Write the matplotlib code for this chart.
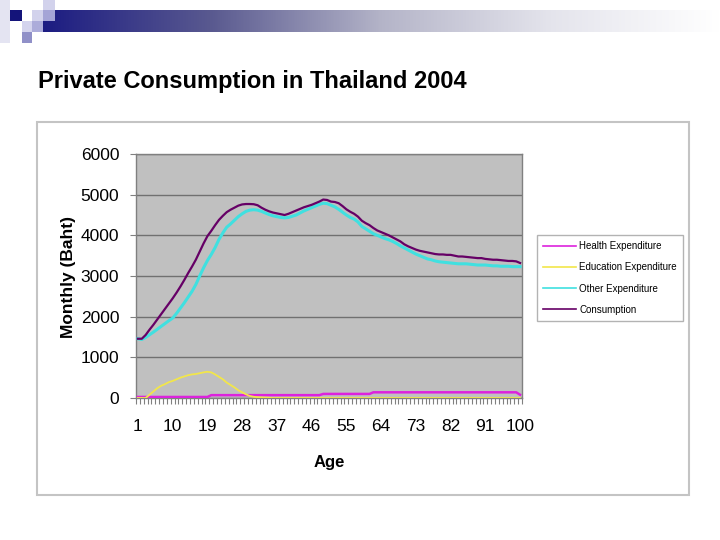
import matplotlib
matplotlib.use("Agg")
import matplotlib.pyplot as plt
import numpy as np
from matplotlib.patches import Rectangle
from matplotlib.colors import LinearSegmentedColormap
from matplotlib.ticker import FixedLocator

plt.rcParams["font.family"] = ["Liberation Sans", "DejaVu Sans"]

# ---- data ----
ages = list(range(1, 101))

health = [25] * 19 + [70] * 29 + [100] * 13 + [140] * 38 + [80]

education = [0, 0, 0, 80, 160, 240, 300, 340, 390, 420,
             460, 500, 530, 560, 580, 590, 610, 630, 645, 630,
             580, 520, 460, 380, 320, 260, 190, 140, 90, 50,
             30, 20, 15, 10, 5] + [0] * 65

other = [1457, 1440, 1490, 1555, 1620, 1690, 1760, 1830, 1900, 1965,
         2080, 2210, 2340, 2480, 2620, 2790, 3000, 3200, 3380, 3530,
         3700, 3900, 4060, 4200, 4280, 4370, 4460, 4530, 4590, 4620,
         4630, 4620, 4590, 4550, 4510, 4480, 4460, 4440, 4430, 4440,
         4470, 4500, 4550, 4600, 4640, 4680, 4720, 4760, 4790, 4780,
         4740, 4700, 4640, 4570, 4500, 4440, 4400, 4330, 4220, 4160,
         4100, 4040, 4000, 3960, 3920, 3890, 3850, 3800, 3740, 3690,
         3640, 3590, 3540, 3500, 3460, 3420, 3400, 3370, 3350, 3340,
         3330, 3320, 3310, 3300, 3300, 3300, 3290, 3280, 3270, 3270,
         3270, 3260, 3250, 3250, 3240, 3240, 3240, 3230, 3230, 3230]

consumption = [1457, 1457, 1550, 1680, 1800, 1930, 2060, 2190, 2320, 2450,
               2590, 2740, 2900, 3070, 3230, 3400, 3600, 3800, 3980, 4110,
               4250, 4380, 4480, 4570, 4630, 4680, 4730, 4760, 4770, 4770,
               4765, 4740, 4680, 4630, 4590, 4560, 4540, 4520, 4500, 4530,
               4570, 4610, 4650, 4690, 4720, 4750, 4790, 4830, 4880, 4870,
               4830, 4820, 4790, 4720, 4640, 4580, 4530, 4460, 4360, 4300,
               4250, 4180, 4120, 4080, 4040, 4000, 3950, 3900, 3850, 3780,
               3730, 3690, 3650, 3620, 3600, 3580, 3560, 3540, 3530, 3530,
               3520, 3520, 3500, 3480, 3480, 3470, 3460, 3450, 3440, 3440,
               3420, 3410, 3400, 3400, 3390, 3380, 3370, 3370, 3360, 3320]

series_names = ["Health Expenditure", "Education Expenditure",
                "Other Expenditure", "Consumption"]
x_tick_labels = [1, 10, 19, 28, 37, 46, 55, 64, 73, 82, 91, 100]
y_ticks = [0, 1000, 2000, 3000, 4000, 5000, 6000]

W, H = 720, 540
fig = plt.figure(figsize=(7.2, 5.4), dpi=100)

# ---- slide background in pixel coordinates ----
bg = fig.add_axes([0, 0, 1, 1], zorder=0)
bg.set_xlim(0, W)
bg.set_ylim(H, 0)
bg.axis("off")

grad = LinearSegmentedColormap.from_list(
    "bar", [(0.0, "#1c1c82"), (0.25, "#5a5a90"), (0.5, "#b4b4c8"),
            (0.75, "#e4e4ec"), (1.0, "#ffffff")])
bg.imshow(np.linspace(0, 1, 256)[None, :], cmap=grad, aspect="auto",
          extent=[43, W, 32, 10], zorder=1)

# decorative squares: x, y, w, h, colour
squares = [
    (0, 0, 10, 43, "#e4e4f2"),
    (10, 10, 12, 11, "#14147a"),
    (32, 10, 11, 11, "#d2d2ec"),
    (43, 0, 12, 10, "#d2d2ec"),
    (43, 10, 12, 11, "#a4a4d6"),
    (22, 21, 10, 11, "#d4d4ee"),
    (32, 21, 11, 11, "#acacda"),
    (22, 32, 10, 11, "#9090c8"),
]
for x0, y0, w, h, c in squares:
    bg.add_patch(Rectangle((x0, y0), w, h, facecolor=c, edgecolor="none", zorder=2))

bg.text(38, 88, "Private Consumption in Thailand 2004", fontsize=17,
        fontweight="bold", color="black", va="baseline", ha="left")

bg.add_patch(Rectangle((37, 122), 652, 373, facecolor="white",
                       edgecolor="#c4c4c4", linewidth=1.5, zorder=1))

# ---- chart ----
ax = fig.add_axes([136 / W, 1 - 398 / H, (522 - 136) / W, (398 - 154) / H], zorder=2)
ax.set_facecolor("#c0c0c0")

colors = ["#dd22dd", "#f2e64a", "#40e0e0", "#660066"]
widths = [1.8, 1.3, 2.2, 1.6]
for vals, name, c, lw in zip([health, education, other, consumption],
                             series_names, colors, widths):
    ax.plot(ages, vals, color=c, linewidth=lw, label=name, zorder=3)

ax.set_xlim(0.5, 100.5)
ax.set_ylim(0, 6000)
ax.set_yticks(y_ticks)
ax.set_yticklabels([str(v) for v in y_ticks], fontsize=12.5)
ax.xaxis.set_major_locator(FixedLocator(x_tick_labels))
ax.set_xticklabels([str(v) for v in x_tick_labels], fontsize=12.5)
ax.xaxis.set_minor_locator(FixedLocator(np.arange(0.5, 101, 1)))
ax.tick_params(axis="x", which="major", length=0, pad=15)
ax.tick_params(axis="x", which="minor", length=4, color="#808080", width=0.8)
ax.tick_params(axis="y", length=4, color="#808080", width=0.8, pad=8)
ax.grid(axis="y", color="#707070", linewidth=1.0, zorder=1)
ax.set_axisbelow(True)
for s in ax.spines.values():
    s.set_color("#808080")
    s.set_linewidth(1.0)

fig.text(68 / W, 1 - 277 / H, "Monthly (Baht)", rotation=90, fontsize=12.5,
         fontweight="bold", ha="center", va="center")
fig.text(329 / W, 1 - 462 / H, "Age", fontsize=12, fontweight="bold",
         ha="center", va="center")

leg = fig.legend(loc="upper left", bbox_to_anchor=(537 / W, 1 - 235 / H),
                 fontsize=7.0, frameon=True, fancybox=False,
                 handlelength=3.4, handletextpad=0.3, labelspacing=1.15,
                 borderpad=0.65, borderaxespad=0)
leg.get_frame().set_edgecolor("#a0a0a0")
leg.get_frame().set_linewidth(1.0)
for line in leg.get_lines():
    line.set_linewidth(1.2)

fig.savefig("out.png", dpi=100)
